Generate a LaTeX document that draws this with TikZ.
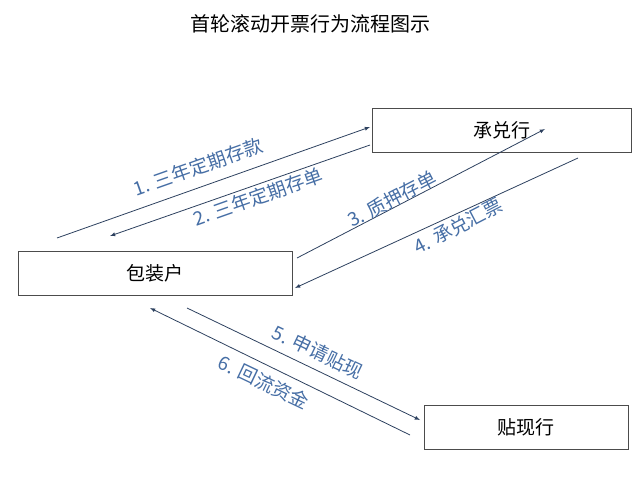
\documentclass[tikz,border=0pt]{standalone}
\usepackage{fontspec}
\setmainfont{Noto Sans CJK SC}
\begin{document}
\begin{tikzpicture}[x=1pt,y=-1pt,
 box/.style={draw=black!70,line width=0.6pt,minimum width=#1,minimum height=44pt,font=\fontsize{19}{19}\selectfont},
 ln/.style={draw={rgb,255:red,45;green,65;blue,95},line width=0.8pt,-latex},
 lab/.style={text={rgb,255:red,70;green,110;blue,165},font=\fontsize{19}{19}\selectfont,inner sep=0pt}]
\useasboundingbox (0,0) rectangle (639,500);
\node (t) at (310,24) {\fontsize{20}{20}\selectfont 首轮滚动开票行为流程图示};
\node[box=259pt] (c) at (502,130) {承兑行};
\node[box=274pt] (b) at (155,273) {包装户};
\node[box=204pt] (d) at (526,427) {贴现行};
\coordinate (a1) at (57,238); \coordinate (a1e) at (370,127);
\coordinate (a2) at (370,145); \coordinate (a2e) at (110,236);
\coordinate (a3) at (297,258); \coordinate (a3e) at (545,129);
\coordinate (a4) at (578,158); \coordinate (a4e) at (295,288);
\coordinate (a5) at (187,308); \coordinate (a5e) at (420,420);
\coordinate (a6) at (410,435); \coordinate (a6e) at (150,308);
\draw[ln] (a1) -- (a1e);
\draw[ln] (a2) -- (a2e);
\draw[ln] (a3) -- (a3e);
\draw[ln] (a4) -- (a4e);
\draw[ln] (a5) -- (a5e);
\draw[ln] (a6) -- (a6e);
\node[lab,rotate=19.5] (l1) at (198,167) {1. 三年定期存款};
\node[lab,rotate=19.5] (l2) at (258,197) {2. 三年定期存单};
\node[lab,rotate=27.5] (l3) at (392,199) {3. 质押存单};
\node[lab,rotate=27.5] (l4) at (458,226) {4. 承兑汇票};
\node[lab,rotate=-25.5] (l5) at (318,352) {5. 申请贴现};
\node[lab,rotate=-25.5] (l6) at (264,382) {6. 回流资金};
\end{tikzpicture}
\end{document}
